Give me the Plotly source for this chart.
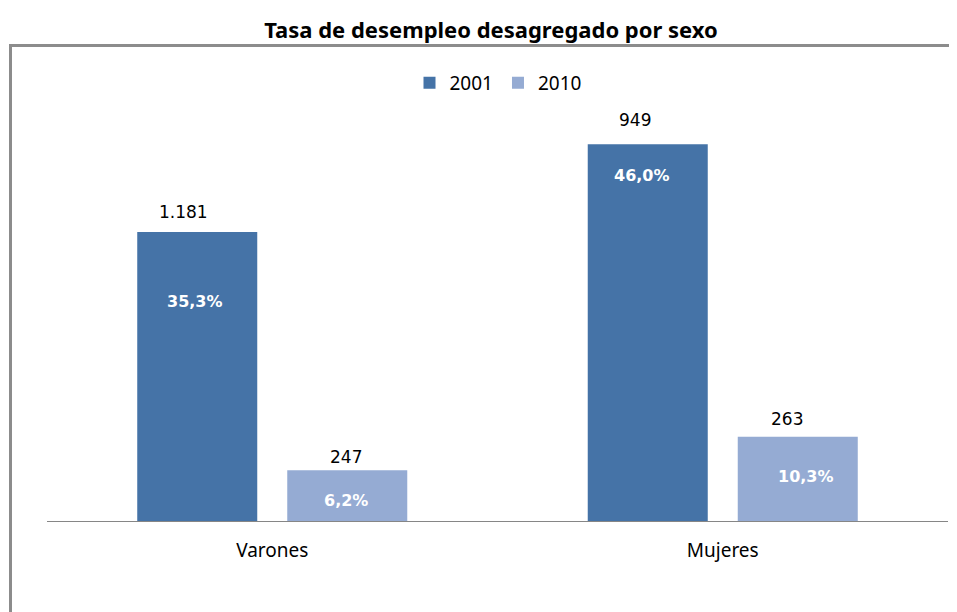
import plotly.graph_objects as go

categories = ["Varones", "Mujeres"]
years = ["2001", "2010"]
pct_2001 = [35.3, 46.0]
pct_2010 = [6.2, 10.3]
count_2001 = [1181, 949]
count_2010 = [247, 263]
colors = {"2001": "#4573A7", "2010": "#95ABD3"}

# label pixel offsets (style only)
count_dx = {"2001": [-14, -13], "2010": [-1, -11]}
count_dy = {"2001": [20, 24], "2010": [13, 18]}
pct_dy = {"2001": [-70, -31], "2010": [-30, -40]}
pct_dx = {"2001": [-2, -6], "2010": [-1, 8]}
group_dx = {"2001": -75, "2010": 75}

FONT = "Noto Sans"
W, H = 949, 604  # page body has an 8px margin

def fmt_count(v):
    return f"{v:,}".replace(",", ".")

def fmt_pct(v):
    return f"{v:.1f}".replace(".", ",") + "%"

fig = go.Figure()
series = {"2001": (pct_2001, count_2001), "2010": (pct_2010, count_2010)}
for y in years:
    fig.add_trace(go.Bar(x=categories, y=series[y][0], name=y,
                         marker=dict(color=colors[y], line=dict(width=0))))

annotations = []
for y in years:
    pcts, counts = series[y]
    for i, cat in enumerate(categories):
        annotations.append(dict(x=cat, y=pcts[i], xref="x", yref="y",
                                text=fmt_count(counts[i]), showarrow=False,
                                xshift=group_dx[y] + count_dx[y][i], yshift=count_dy[y][i],
                                yanchor="middle",
                                font=dict(family="DejaVu Sans", size=17, color="#000000")))
        annotations.append(dict(x=cat, y=pcts[i], xref="x", yref="y",
                                text="<b>" + fmt_pct(pcts[i]) + "</b>", showarrow=False,
                                xshift=group_dx[y] + pct_dx[y][i], yshift=pct_dy[y][i],
                                yanchor="middle",
                                font=dict(family="DejaVu Sans", size=16, color="#FFFFFF")))

# plot area in page px: left 47, right 948, top 100, bottom 521; figure origin at page (8, 8)
L, R, T, B = 47 - 8, W - (948 - 8), 100 - 8, H - (521 - 8)
plot_w, plot_h = W - L - R, H - T - B

def px_x(page_x):
    return (page_x - 8 - L) / plot_w

def px_y(page_y):
    return (H - B - (page_y - 8)) / plot_h

fig.update_layout(
    width=W, height=H,
    margin=dict(l=L, r=R, t=T, b=B),
    paper_bgcolor="white", plot_bgcolor="white",
    barmode="group", bargap=0.334, bargroupgap=0.2,
    title=dict(text="<b>Tasa de desempleo desagregado por sexo</b>",
               x=(491 - 8) / W, xanchor="center", y=1 - (30 - 8) / H, yanchor="middle",
               font=dict(family=FONT, size=22, color="#000000")),
    legend=dict(orientation="h", x=px_x(498), xanchor="center", y=px_y(83), yanchor="middle",
                font=dict(family=FONT, size=19, color="#000000"),
                itemwidth=30, bgcolor="rgba(0,0,0,0)"),
    xaxis=dict(showline=True, linecolor="#868686", linewidth=1, ticks="",
               tickfont=dict(family=FONT, size=19, color="#000000"),
               ticklabelstandoff=12,
               showgrid=False, zeroline=False, range=[-0.5, 1.5]),
    yaxis=dict(visible=False, range=[0, plot_h / 8.19], showgrid=False, zeroline=False),
    annotations=annotations,
    shapes=[
        dict(type="line", xref="paper", yref="paper", x0=px_x(10.5), x1=px_x(1000),
             y0=px_y(45.5), y1=px_y(45.5),
             line=dict(color="#8C8C8C", width=3)),
        dict(type="line", xref="paper", yref="paper", x0=px_x(10.5), x1=px_x(10.5),
             y0=px_y(44), y1=px_y(700),
             line=dict(color="#8C8C8C", width=3)),
    ],
)

fig.write_html("out.html", config={"displayModeBar": False})
